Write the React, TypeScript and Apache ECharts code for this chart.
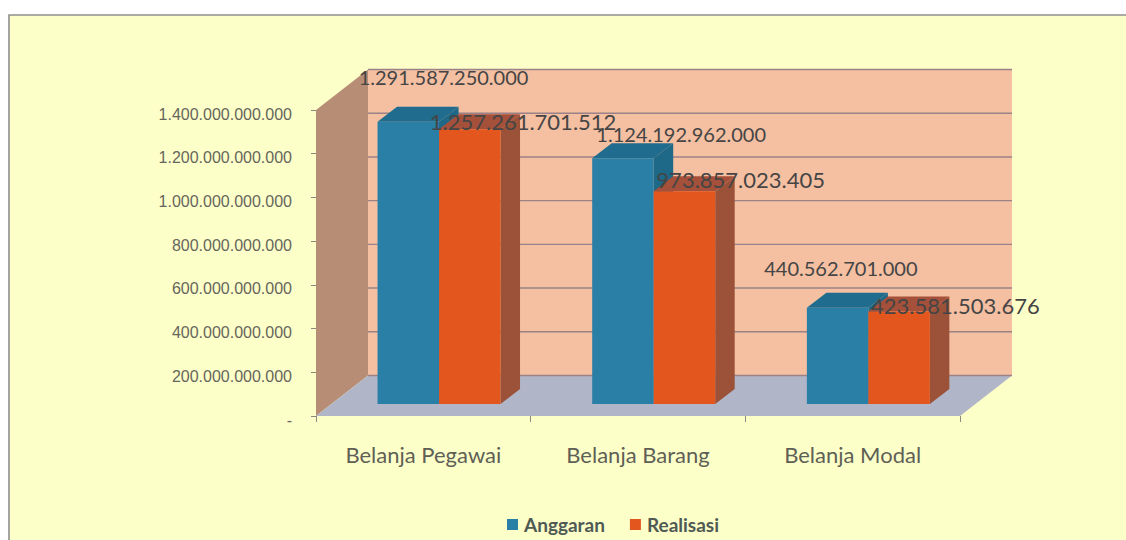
import React, { useEffect, useRef } from "react";
import * as echarts from "echarts";

const categories = ["Belanja Pegawai", "Belanja Barang", "Belanja Modal"];
const anggaran = [1291587250000, 1124192962000, 440562701000];
const realisasi = [1257261701512, 973857023405, 423581503676];
const yTicks = [0, 200000000000, 400000000000, 600000000000, 800000000000, 1000000000000, 1200000000000, 1400000000000];

const BAR_W = 61.5;
const DEPTH = { x: 52, y: -40.5 };
const BAR_SHIFT = { x: 15.7, y: -12 };
const BAR_DEPTH = { x: 19.5, y: -15 };
const COLORS = {
  blue: { front: "#2A7FA6", top: "#1F6C8E", side: "#1E6888" },
  orange: { front: "#E3571F", top: "#A4503A", side: "#9B5238" },
  wall: "#F5BFA1",
  leftWall: "#B78D75",
  floor: "#B1B5C8",
  grid: "#9A8288",
  page: "#FDFFC9",
  frame: "#8E8E8E",
  text: "#454545",
  axisText: "#5F5F56",
};
// label centres relative to the top-left of the front face top edge of each bar
const anggaranLabelOffset = [[66, -45], [89, -24], [34, -40]];
const realisasiLabelOffset = [[84, -8], [87, -12], [87, -6]];
const LATO = "Lato, 'Open Sans', sans-serif";

const fmt = (v: number) => String(v).replace(/\B(?=(\d{3})+(?!\d))/g, ".");

const poly = (points: number[][], fill: string, z2 = 0) => ({
  type: "polygon",
  shape: { points },
  style: { fill },
  z2,
});

function renderBackdrop(params: any, api: any) {
  const tick = api.value(0);
  const sys = params.coordSys;
  const left = sys.x;
  const right = sys.x + sys.width;
  const [, y] = api.coord([0, tick]);
  const [, y0] = api.coord([0, 0]);
  const [, yTop] = api.coord([0, yTicks[yTicks.length - 1]]);
  const children: any[] = [];
  if (params.dataIndex === 0) {
    children.push(
      poly([[left + DEPTH.x, yTop + DEPTH.y], [right + DEPTH.x, yTop + DEPTH.y], [right + DEPTH.x, y0 + DEPTH.y], [left + DEPTH.x, y0 + DEPTH.y]], COLORS.wall),
      poly([[left, yTop], [left + DEPTH.x, yTop + DEPTH.y], [left + DEPTH.x, y0 + DEPTH.y], [left, y0]], COLORS.leftWall),
      poly([[left, y0], [right, y0], [right + DEPTH.x, y0 + DEPTH.y], [left + DEPTH.x, y0 + DEPTH.y]], COLORS.floor)
    );
  }
  children.push({
    type: "line",
    shape: { x1: left + DEPTH.x, y1: y + DEPTH.y, x2: right + DEPTH.x, y2: y + DEPTH.y },
    style: { stroke: COLORS.grid, lineWidth: 1.4 },
    z2: 1,
  });
  return { type: "group", children };
}

const renderBar = (pal: { front: string; top: string; side: string }, slot: number) => (_: any, api: any) => {
  const idx = api.value(0);
  const [cx, y0] = api.coord([idx, 0]);
  const [, yv] = api.coord([idx, api.value(1)]);
  const x1 = cx + BAR_SHIFT.x + (slot - 1) * BAR_W;
  const x2 = x1 + BAR_W;
  const b = y0 + BAR_SHIFT.y;
  const t = yv + BAR_SHIFT.y;
  const dx = BAR_DEPTH.x;
  const dy = BAR_DEPTH.y;
  return {
    type: "group",
    children: [
      poly([[x2, b], [x2 + dx, b + dy], [x2 + dx, t + dy], [x2, t]], pal.side),
      poly([[x1, t], [x2, t], [x2 + dx, t + dy], [x1 + dx, t + dy]], pal.top),
      poly([[x1, t], [x2, t], [x2, b], [x1, b]], pal.front),
    ],
  };
};

const renderLabel = (slot: number, offsets: number[][], fontSize: number) => (_: any, api: any) => {
  const idx = api.value(0);
  const v = api.value(1);
  const [cx] = api.coord([idx, 0]);
  const [, yv] = api.coord([idx, v]);
  const x1 = cx + BAR_SHIFT.x + (slot - 1) * BAR_W;
  const t = yv + BAR_SHIFT.y;
  return {
    type: "text",
    x: x1 + offsets[idx][0],
    y: t + offsets[idx][1],
    style: {
      text: fmt(v),
      fill: COLORS.text,
      fontFamily: LATO,
      fontSize,
      align: "center",
      verticalAlign: "middle",
    },
  };
};

export default function App() {
  const ref = useRef<HTMLDivElement>(null);
  useEffect(() => {
    const chart = echarts.init(ref.current!, undefined, { renderer: "svg" });
    const pairs = (arr: number[]) => arr.map((v, i) => [i, v]);
    chart.setOption({
      animation: false,
      backgroundColor: "#ffffff",
      graphic: [
        {
          type: "rect",
          z: -1,
          shape: { x: 9, y: 15, width: 1300, height: 700 },
          style: { fill: COLORS.page, stroke: COLORS.frame, lineWidth: 1.6 },
          silent: true,
        },
      ],
      grid: { left: 316, top: 110, width: 644, height: 306, containLabel: false },
      legend: {
        data: ["Anggaran", "Realisasi"],
        left: 507,
        top: 515,
        itemWidth: 11,
        itemHeight: 11,
        itemGap: 25,
        icon: "rect",
        padding: 0,
        textStyle: { fontFamily: LATO, fontSize: 19, fontWeight: 700, color: "#4F5A55", padding: [0, 0, 0, 1] },
      },
      xAxis: {
        type: "category",
        data: categories,
        axisLine: { show: false },
        axisTick: { show: true, alignWithLabel: false, length: 6, lineStyle: { color: "#8A8A80" } },
        axisLabel: { fontFamily: LATO, fontSize: 22, color: COLORS.axisText, margin: 27 },
        splitLine: { show: false },
      },
      yAxis: {
        type: "value",
        min: 0,
        max: 1400000000000,
        interval: 200000000000,
        axisLine: { show: false },
        axisTick: { show: true, length: 5, lineStyle: { color: "#8A8A80" } },
        axisLabel: {
          margin: 24,
          formatter: (v: number) => `{a|${v === 0 ? "-" : fmt(v)}}`,
          rich: {
            a: {
              fontFamily: "'Liberation Sans', Arial, sans-serif",
              fontSize: 16,
              color: "#66665C",
              padding: [8, 0, 0, 0],
            },
          },
        },
        splitLine: { show: false },
      },
      series: [
        { type: "custom", name: "backdrop", z: 1, clip: false, silent: true, data: yTicks.map((v) => [v]), encode: { y: 0 }, renderItem: renderBackdrop },
        { type: "custom", name: "Anggaran", z: 2, clip: false, itemStyle: { color: COLORS.blue.front }, data: pairs(anggaran), encode: { x: 0, y: 1 }, renderItem: renderBar(COLORS.blue, 0) },
        { type: "custom", name: "Realisasi", z: 3, clip: false, itemStyle: { color: COLORS.orange.front }, data: pairs(realisasi), encode: { x: 0, y: 1 }, renderItem: renderBar(COLORS.orange, 1) },
        { type: "custom", name: "labelsA", z: 4, clip: false, silent: true, data: pairs(anggaran), encode: { x: 0, y: 1 }, renderItem: renderLabel(0, anggaranLabelOffset, 20) },
        { type: "custom", name: "labelsR", z: 4, clip: false, silent: true, data: pairs(realisasi), encode: { x: 0, y: 1 }, renderItem: renderLabel(1, realisasiLabelOffset, 22) },
      ],
    });
    return () => chart.dispose();
  }, []);
  return <div ref={ref} style={{ position: "fixed", left: 0, top: 0, width: 1126, height: 540 }} />;
}
